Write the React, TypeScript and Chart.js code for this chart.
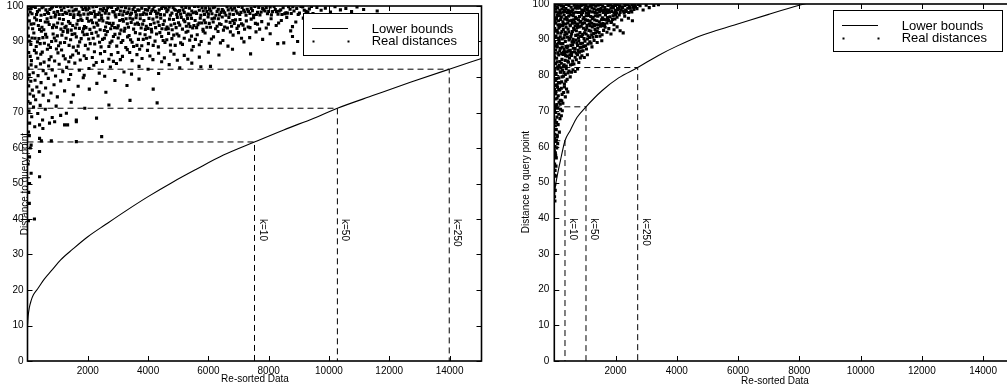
import React, { useEffect, useRef } from 'react';
import { Chart, registerables } from 'chart.js';

Chart.register(...registerables);

const FONT = '"Liberation Sans", Arial, Helvetica, sans-serif';

const xTicks = [2000, 4000, 6000, 8000, 10000, 12000, 14000];
const yTicks = [0, 10, 20, 30, 40, 50, 60, 70, 80, 90, 100];
const xMax = 15060;
const kLabels = ['k=10', 'k=50', 'k=250'];
const kLabelY = 40;
const kDistances = [61.7, 71.2, 82.2];
const leftKX = [7530, 10280, 13990];
const rightKX = [349, 1035, 2723];
const legendLabels = ['Lower bounds', 'Real distances'];
const xTitle = 'Re-sorted Data';
const yTitle = 'Distance to query point';

const leftBoundX = [1, 20, 60, 120, 200, 350, 550, 800, 1100, 1500, 2000, 2600, 3300, 4000, 4800, 5600, 6500, 7530, 8500, 9500, 10280, 11500, 12700, 13990, 15060];
const leftBoundY = [10, 12.5, 15, 17, 18.7, 20.5, 23, 25.5, 28.5, 31.5, 35, 38.5, 42.5, 46.3, 50.3, 54, 58, 61.7, 65.1, 68.4, 71.2, 74.9, 78.5, 82.2, 85.2];

const rightBoundX = [0, 30, 88, 196, 349, 522, 740, 1035, 1556, 2100, 2723, 3400, 4003, 4800, 5961, 7000, 8026, 9000, 11000, 13000, 15060];
const rightBoundY = [45, 48.5, 51.5, 56, 61.7, 64.6, 68.2, 71.2, 75.7, 79.3, 82.2, 85.6, 88.2, 91.2, 94.3, 97.1, 99.7, 101.8, 105.5, 108.8, 112];

const leftReal: [number, number][] = [
  [40,99.2],[150,97.8],[260,99.6],[330,98.4],[450,97.4],[520,99.8],[610,98.9],[700,97.9],[790,99.4],[880,98.2],[960,99.9],[1050,97.6],[1130,98.8],[1210,99.5],[1300,97.9],[1380,98.6],[1470,99.7],[1540,97.5],[1620,99.1],[1710,98.3],[1800,99.8],[1870,97.7],[1950,98.9],[2040,99.4],[2120,97.9],[2210,98.5],[2290,99.9],[2380,98.1],[2450,97.4],[2530,99.3],[2620,98.7],[2700,97.8],[2790,99.6],[2870,98.3],[2950,99.0],[3040,97.6],[3120,99.8],[3200,98.5],[3290,97.9],[3370,99.2],[3450,98.0],[3540,99.7],[3610,97.5],[3700,98.8],[3790,99.4],[3860,98.1],[3950,97.7],[4030,99.6],[4120,98.6],[4200,99.9],[4280,97.8],[4370,98.9],[4450,99.3],[4540,97.5],[4620,98.4],[4700,99.7],[4790,98.0],[4870,99.1],[4950,97.6],[5040,98.7],[5120,99.8],[5200,98.2],[5290,97.4],[5370,99.4],[5450,98.6],[5540,99.9],[5610,97.9],[5700,98.8],[5790,99.5],[5870,97.6],[5950,98.4],[6040,99.2],[6120,97.8],[6210,99.7],[6290,98.5],[6370,97.5],[6460,99.0],[6540,98.1],[6620,99.8],[6710,97.7],[6790,98.9],[6870,99.4],[6960,98.0],[7040,97.6],[7120,99.6],[7210,98.3],[7290,99.1],[7380,97.9],[7460,98.7],[7540,99.9],[7630,98.2],[7710,97.5],[7800,99.3],[7880,98.6],[7960,97.8],[8050,99.7],[8130,98.4],[8220,99.0],[8310,97.7],[8400,98.9],[8480,99.5],[8570,98.1],[8660,99.8],[8750,97.9],[8840,98.6],[8930,99.3],[9020,98.0],[9130,99.7],[9240,98.5],[9350,99.2],[9470,97.9],[9600,99.6],[9740,98.8],[9880,99.4],[10050,98.3],[10200,99.8],[10380,98.9],[10560,99.3],[10750,98.4],[10930,99.7],[11150,99.0],[11600,98.6],
  [90,98.3],[200,99.9],[390,98.9],[570,97.6],[740,99.0],[930,97.5],[1090,99.7],[1250,98.2],[1420,97.6],[1580,98.9],[1750,97.4],[1920,99.5],[2080,98.1],[2250,97.6],[2420,99.1],[2580,98.0],[2750,99.9],[2910,97.5],[3080,98.6],[3250,99.5],[3410,97.6],[3580,98.4],[3740,97.5],[3910,99.0],[4080,97.9],[4240,98.5],[4410,97.6],[4580,99.4],[4740,97.4],[4910,98.8],[5080,97.7],[5250,99.6],[5410,97.5],[5580,98.3],[5750,97.4],[5910,99.4],[6080,98.6],[6250,97.4],[6420,98.2],[6580,97.4],[6750,99.5],[6920,98.6],[7080,98.2],[7250,97.4],[7420,99.3],[7590,97.6],[7750,98.3],[7920,99.6],[8090,97.5],[8260,98.4],[8440,97.6],[8620,98.0],[8800,99.8],[8980,97.6],[9180,98.8],[9420,99.9],
  [15,97.5],[120,99.3],[300,97.6],[480,99.5],[660,98.2],[830,99.7],[1000,98.4],[1170,97.6],[1340,99.9],[1510,98.6],[1680,97.6],[1840,99.0],[2010,97.7],[2170,99.7],[2340,97.6],[2500,98.7],[2660,99.5],[2830,98.4],[3000,99.4],[3160,97.5],[3330,98.2],[3500,99.0],[3660,98.9],[3830,97.6],[3990,98.8],[4160,99.0],[4330,98.0],[4490,99.9],[4660,98.9],[4830,99.6],[5000,98.5],[5160,98.9],[5330,97.7],[5500,98.1],[5660,99.9],[5830,98.6],[6000,97.7],[6160,99.5],[6330,99.1],[6500,98.6],[6660,98.9],[6830,97.6],[7000,99.9],[7170,98.8],[7330,98.5],[7500,97.4],[7670,99.6],[7840,98.9],[8000,98.5],[8180,99.9],[8350,98.6],[8530,97.8],[8710,99.1],[9070,99.9],[9300,98.3],
  [60,95.8],[170,93.6],[240,96.7],[360,94.5],[430,95.9],[540,93.3],[650,96.4],[720,94.8],[830,93.9],[910,96.9],[1000,95.2],[1110,93.5],[1190,96.2],[1280,94.3],[1360,95.6],[1450,93.2],[1530,96.8],[1640,94.9],[1720,93.7],[1810,95.9],[1890,94.2],[1980,96.5],[2070,93.4],[2160,95.3],[2240,96.9],[2330,94.6],[2410,93.3],[2500,95.8],[2590,94.1],[2670,96.6],[2760,93.6],[2840,95.1],[2930,96.9],[3010,94.4],[3100,93.2],[3180,95.7],[3270,96.4],[3350,94.0],[3440,95.4],[3520,93.5],[3600,96.7],[3690,94.8],[3770,93.8],[3860,95.9],[3940,94.3],[4030,96.5],[4110,93.4],[4200,95.2],[4290,96.9],[4370,94.5],[4460,93.6],[4540,95.8],[4630,94.1],[4710,96.3],[4800,93.3],[4880,95.0],[4970,96.8],[5050,94.6],[5140,93.5],[5220,95.6],[5310,96.5],[5390,94.2],[5480,93.8],[5560,95.9],[5650,94.7],[5730,96.6],[5820,93.4],[5900,95.3],[5990,96.9],[6070,94.0],[6160,95.5],[6240,93.6],[6330,96.4],[6420,94.8],[6500,93.2],[6590,95.7],[6680,96.8],[6770,94.3],[6860,95.1],[6950,93.7],[7050,96.2],[7150,94.6],[7260,95.8],[7380,93.9],[7500,96.7],[7630,94.9],[7770,95.6],[7920,93.8],[8080,96.4],[8250,94.5],[8420,95.9],[8600,96.8],[8790,94.2],[8900,95.5],[9150,96.6],[9500,96.1],
  [120,94.9],[300,96.1],[480,94.0],[680,95.5],[870,94.6],[1060,96.4],[1240,93.9],[1410,95.1],[1590,93.8],[1770,96.3],[1940,93.9],[2120,96.0],[2290,95.2],[2460,96.5],[2630,95.3],[2800,94.5],[2980,93.8],[3150,96.2],[3310,95.0],[3490,96.3],[3650,95.2],[3820,94.9],[4000,93.7],[4160,96.3],[4330,95.5],[4500,94.8],[4670,93.6],[4840,96.2],[5010,95.3],[5180,96.1],[5350,95.0],[5520,94.5],[5690,95.2],[5860,96.0],[6030,95.1],[6200,96.6],[6370,95.0],[6540,94.1],[6720,95.4],[6900,96.1],[7100,95.0],[7320,94.1],[7560,95.1],
  [20,93.8],[210,95.0],[400,93.4],[590,95.5],[780,96.8],[960,94.0],[1150,95.0],[1330,93.3],[1500,94.5],[1680,95.9],[1860,93.6],[2030,95.7],[2210,94.0],[2380,96.0],[2550,93.1],[2720,95.1],[2890,93.9],[3060,95.9],[3230,93.7],[3400,96.6],[3570,94.9],[3740,96.4],[3910,93.4],[4080,94.8],[4250,93.9],[4420,96.6],[4590,93.5],[4760,94.6],[4930,93.9],[5100,96.8],[5270,94.3],[5440,96.5],[5610,93.9],[5780,95.2],[5950,94.0],[6120,96.4],[6290,94.3],[6460,96.9],[6630,93.8],[6810,95.9],[7000,94.4],[7200,93.5],[7420,96.3],[7700,93.5],[7990,94.9],[8330,95.2],
  [30,91.5],[110,89.2],[210,92.4],[290,88.6],[380,90.8],[460,92.9],[560,89.5],[640,91.2],[760,88.3],[850,92.1],[940,90.2],[1030,88.8],[1140,91.8],[1230,89.7],[1330,92.6],[1430,90.5],[1520,88.4],[1620,91.3],[1730,89.9],[1830,92.7],[1920,88.9],[2030,90.7],[2130,92.3],[2230,89.3],[2340,91.6],[2440,88.5],[2550,90.9],[2650,92.8],[2740,89.6],[2850,91.4],[2960,88.7],[3060,92.2],[3160,90.3],[3260,88.3],[3370,91.7],[3470,89.8],[3580,92.5],[3680,90.6],[3790,88.8],[3900,91.9],[4010,89.4],[4120,92.7],[4230,90.1],[4340,88.5],[4450,91.4],[4560,89.7],[4680,92.3],[4790,90.8],[4900,88.9],[5020,91.6],[5140,89.2],[5260,92.6],[5380,90.4],[5500,88.6],[5630,91.9],[5760,90.0],[5890,92.4],[6030,89.5],[6170,91.3],[6320,92.8],[6480,90.3],[6650,88.7],[6820,91.8],[7000,92.5],[7180,89.9],[7370,91.1],[7580,92.7],[7800,90.6],[8050,92.2],[8300,89.4],[8500,89.6],[8730,93.0],[8790,91.4],[8960,90.0],
  [70,90.1],[250,90.9],[420,89.4],[600,92.0],[800,90.0],[990,91.6],[1180,92.8],[1380,88.9],[1570,92.2],[1780,90.8],[1980,92.0],[2180,90.9],[2390,89.8],[2600,91.9],[2800,90.1],[3010,91.0],[3210,92.9],[3420,90.5],[3630,88.9],[3840,90.6],[4060,91.2],[4280,92.1],[4500,90.3],[4740,89.0],[4960,92.1],[5200,90.9],[5440,91.5],[5700,89.1],
  [150,91.0],[330,89.9],[510,91.1],[700,89.0],[890,91.0],[1090,89.6],[1280,90.9],[1480,92.0],[1680,88.7],[1880,91.9],[2080,89.4],[2280,92.6],[2490,90.6],[2700,88.6],[2900,92.0],[3110,89.7],[3320,91.3],[3520,88.6],[3730,92.2],[3950,90.9],[4170,88.9],[4390,92.5],[4620,90.5],[4850,91.8],[5080,89.6],[5320,92.9],[5570,90.6],[5830,92.9],[6100,90.7],[6400,89.6],[6730,92.7],[7100,90.9],
  [40,86.9],[130,84.6],[230,87.5],[340,85.3],[440,86.4],[550,84.2],[660,87.8],[780,85.7],[900,84.5],[1010,86.8],[1130,87.6],[1250,85.1],[1370,84.3],[1500,86.2],[1620,87.4],[1750,84.8],[1880,86.0],[2010,87.9],[2150,85.5],[2280,84.1],[2420,86.6],[2560,87.2],[2700,85.0],[2850,84.4],[3000,86.9],[3150,85.8],[3310,87.7],[3470,84.6],[3630,86.3],[3800,85.2],[3980,87.5],[4160,84.9],[4350,86.7],[4540,85.4],[4750,87.3],[4970,84.7],[5200,86.1],[5450,87.6],[5700,85.6],[6000,87.0],[6350,86.2],[6800,87.8],[7400,86.5],[8840,86.7],
  [90,85.8],[290,86.8],[490,87.0],[720,84.9],[960,87.9],[1190,86.0],[1430,85.6],[1690,86.7],[1950,85.2],[2220,87.1],[2490,84.4],[2780,86.3],[3080,84.9],[3390,86.9],[3720,87.8],[4060,85.9],[4450,84.3],[4860,86.4],[5320,85.0],
  [20,82.5],[60,80.6],[120,83.4],[190,81.2],[280,82.9],[350,80.4],[430,83.7],[520,81.8],[610,80.9],[700,83.1],[820,82.0],[930,80.3],[1050,83.6],[1170,81.5],[1300,82.7],[1430,80.7],[1570,83.9],[1720,81.9],[1880,80.5],[2040,82.4],[2200,83.3],[2380,81.1],[2560,80.2],[2750,82.8],[2950,83.8],[3200,81.4],[3450,80.8],[3700,83.0],[4000,82.2],[4350,81.0],[4700,83.5],[5050,82.6],[5450,83.9],[5750,82.9],[6070,83.0],
  [10,79.4],[40,77.5],[80,75.2],[110,78.8],[160,76.3],[200,74.6],[250,79.1],[310,77.2],[380,75.8],[450,78.4],[520,74.9],[600,76.9],[690,79.6],[780,75.5],[880,77.8],[990,74.4],[1100,78.9],[1230,76.1],[1370,79.3],[1520,75.0],[1680,77.4],[1850,79.8],[2050,76.6],[2300,78.2],[2600,75.7],[2900,79.0],[3300,77.6],[3700,79.4],[4170,76.6],
  [15,73.1],[50,70.4],[90,72.6],[140,68.8],[200,71.5],[270,73.6],[340,69.7],[420,72.0],[500,67.9],[590,70.9],[700,73.3],[820,68.6],[950,71.8],[1100,69.2],[1290,69.8],[1450,72.9],[1620,67.9],[1900,71.2],[2290,68.4],[2700,72.1],[3400,73.4],[4300,72.7],
  [70,67.0],[240,66.0],[400,66.5],[510,65.5],[730,67.0],[900,67.4],[1230,66.5],[1330,66.5],[1620,67.4],[2460,63.2],[400,62.7],[460,62.0],[790,62.0],[1620,61.8],[30,64.5],[120,60.8],[60,63.5],
  [67,57.5],[400,59.0],[120,52.9],[400,51.9],[67,50.0],[60,44.4],[230,40.0],[20,55.5],[40,47.5],[90,60.0],[30,39.5]
];

const rightReal: [number, number][] = [
  [20,99.5],[60,97.8],[110,98.9],[150,99.8],[200,97.4],[250,98.6],[300,99.3],[350,97.9],[400,99.9],[450,98.2],[500,97.5],[550,99.1],[600,98.4],[650,99.7],[700,97.7],[750,98.8],[800,99.4],[850,97.6],[900,98.3],[950,99.9],[1000,98.9],[1050,97.5],[1100,99.2],[1150,98.0],[1200,99.7],[1250,97.8],[1300,98.6],[1350,99.4],[1400,97.4],[1450,98.5],[1500,99.8],[1550,98.1],[1600,97.6],[1650,99.0],[1700,98.4],[1750,99.6],[1800,97.7],[1850,98.8],[1900,99.3],[1950,97.5],[2000,98.2],[2050,99.8],[2100,98.7],[2150,97.6],[2200,99.2],[2250,98.0],[2300,99.6],[2350,97.9],[2400,98.8],[2450,99.4],[2500,98.1],[2550,99.9],[2600,98.5],[2650,99.2],[2700,98.7],[2800,99.5],[2900,98.3],[3000,99.7],[3100,99.0],[3250,99.6],[3400,99.8],
  [40,98.6],[130,97.5],[230,99.5],[330,98.4],[430,97.6],[530,98.0],[630,97.4],[730,99.5],[830,98.9],[930,97.6],[1030,99.6],[1130,97.6],[1230,98.9],[1330,97.6],[1430,99.7],[1530,98.7],[1630,98.2],[1730,97.6],[1830,99.7],[1930,98.9],[2030,97.5],[2130,99.5],[2230,99.0],[2330,98.3],[2430,97.6],[2530,97.8],[2630,99.6],
  [80,99.2],[180,98.2],[280,97.7],[380,98.7],[480,99.6],[580,97.8],[680,98.9],[780,97.6],[880,99.6],[980,98.2],[1080,98.5],[1180,99.4],[1280,99.8],[1380,98.3],[1480,97.9],[1580,99.4],[1680,97.5],[1780,98.3],[1880,97.9],[1980,99.6],[2080,98.5],[2180,98.4],[2280,97.5],[2380,99.9],[2480,98.9],[2580,99.1],[2750,99.9],
  [10,96.1],[50,94.6],[90,96.8],[140,95.3],[180,94.2],[230,96.4],[280,95.0],[320,96.9],[370,94.4],[420,95.7],[470,96.6],[520,94.1],[570,95.4],[620,96.7],[670,94.8],[720,95.9],[770,94.3],[820,96.5],[870,95.1],[920,94.5],[970,96.2],[1020,95.6],[1070,94.0],[1120,96.8],[1170,95.2],[1220,94.6],[1270,96.3],[1320,95.5],[1370,94.2],[1420,96.6],[1470,95.0],[1520,94.4],[1570,96.1],[1620,95.7],[1670,96.9],[1720,94.7],[1770,95.4],[1820,96.4],[1870,95.0],[1920,96.7],[1980,95.8],[2050,96.3],[2120,96.9],[2200,95.5],[2300,96.6],[2420,96.0],[2550,95.3],
  [30,95.2],[120,94.1],[210,95.7],[300,94.4],[390,96.2],[490,95.3],[590,94.6],[690,96.3],[790,95.6],[890,96.9],[990,94.7],[1090,95.4],[1190,96.5],[1290,94.3],[1390,95.3],[1490,96.9],[1590,94.5],[1690,95.6],[1850,94.8],[1950,94.2],
  [70,95.9],[160,96.7],[250,94.0],[340,95.8],[440,94.7],[540,96.9],[640,95.6],[740,94.4],[840,94.9],[940,95.8],[1040,96.7],[1140,94.4],[1240,95.9],[1340,96.7],[1440,94.1],[1540,95.6],[1640,94.3],[1740,96.2],[1900,95.7],[2000,96.9],
  [15,93.1],[55,91.0],[95,92.6],[135,90.4],[175,93.7],[215,91.8],[255,90.2],[295,92.9],[340,91.3],[385,93.5],[430,90.7],[475,92.2],[520,93.9],[565,91.6],[610,90.1],[655,92.8],[700,91.2],[745,93.4],[790,90.5],[835,92.0],[880,93.8],[925,91.5],[970,90.3],[1015,92.7],[1060,93.3],[1105,91.1],[1150,90.6],[1195,92.4],[1240,93.6],[1285,91.7],[1330,92.9],[1375,90.9],[1420,93.2],[1465,92.0],[1510,93.8],[1560,91.4],[1610,92.6],[1660,93.5],[1720,92.1],[1780,93.1],[1850,91.6],[1950,92.8],[2150,92.5],[2250,91.9],[2050,93.6],
  [35,90.6],[115,91.9],[195,90.8],[275,93.9],[360,92.1],[450,93.0],[540,90.9],[630,93.2],[720,92.5],[810,93.6],[900,90.9],[990,91.9],[1080,90.2],[1170,93.9],[1260,90.7],[1350,91.9],
  [50,92.4],[150,93.3],[250,92.3],[320,90.5],[410,91.6],[500,90.3],[590,92.3],[680,93.9],[770,91.4],[860,91.0],[950,93.2],[1040,91.6],[1130,92.6],[1220,91.4],[1310,93.9],[1400,92.3],[1490,91.0],[1600,93.9],
  [10,89.4],[45,87.1],[80,88.7],[120,86.3],[160,89.8],[200,87.6],[240,86.1],[280,88.9],[320,87.3],[360,89.5],[400,86.6],[440,88.2],[480,89.9],[520,87.0],[560,86.4],[600,88.6],[640,89.3],[680,87.5],[720,86.2],[760,88.4],[800,89.7],[840,87.8],[880,86.8],[920,89.0],[960,88.1],[1000,89.6],[1050,87.4],[1100,88.8],[1160,89.4],[1230,88.0],[1300,89.8],[1400,89.2],[1550,89.7],
  [25,86.2],[100,88.0],[180,86.9],[260,87.9],[340,86.0],[420,87.7],[500,86.9],[580,89.4],[660,86.6],[740,89.1],[820,86.5],[900,87.9],
  [60,88.2],[140,89.0],[220,88.9],[300,86.4],[380,88.1],[460,86.8],[540,88.4],[620,87.6],[700,89.9],[780,87.0],[860,88.9],[940,86.9],[1020,88.3],[1200,89.0],
  [10,85.2],[40,83.3],[75,84.8],[110,82.4],[145,85.7],[180,83.9],[215,82.1],[250,84.5],[285,85.9],[320,83.0],[355,84.2],[390,82.6],[425,85.4],[460,83.7],[495,84.9],[530,82.9],[565,85.6],[600,84.0],[640,83.2],[680,85.1],[720,84.4],[760,85.8],[800,83.6],[850,84.9],[900,85.5],[980,85.0],[1080,85.8],
  [25,82.0],[90,83.8],[160,82.8],[230,83.4],[300,82.5],[370,85.5],[440,84.0],[510,85.8],[580,83.1],
  [10,81.3],[35,78.6],[60,80.5],[90,77.4],[120,81.8],[150,79.3],[180,77.9],[210,80.9],[240,78.2],[270,81.5],[300,79.8],[330,77.6],[360,80.3],[390,81.9],[420,78.9],[450,80.7],[480,81.2],[520,79.6],[560,80.9],[610,81.6],[680,81.1],[760,81.8],
  [20,77.2],[75,79.1],[135,78.0],[195,81.0],[255,79.6],[315,80.8],[375,78.4],
  [8,76.1],[30,73.4],[55,75.5],[80,71.8],[105,76.7],[130,74.3],[155,72.5],[180,75.9],[205,73.0],[230,76.4],[255,74.7],[280,72.2],[305,75.2],[330,76.8],[360,74.0],[400,76.2],[440,75.4],
  [18,71.5],[45,74.8],[92,73.6],[143,76.0],[193,71.9],[243,72.9],
  [5,70.2],[25,67.5],[45,69.6],[65,64.8],[85,68.3],[105,70.8],[125,66.2],[145,69.1],[165,64.1],[185,67.9],[205,70.5],[230,68.7],[260,70.1],[15,63.5],[35,65.9],[55,71.0],[75,66.8],[95,63.2],
  [5,62.4],[20,60.1],[35,58.3],[50,61.5],[65,56.9],[80,59.7],[95,62.8],[110,60.9],[10,55.2],[25,53.4],[40,51.8],[55,54.6],[15,49.5],[30,47.8],[8,46.0],[45,57.6],[70,61.9],[12,52.0],[3,58.9],[20,44.8]
];

type Box = { x: number; y: number; w: number; h: number };
type PanelProps = {
  left: number;
  width: number;
  containerWidth: number;
  areaLeft: number;
  areaRight: number;
  areaTop: number;
  boundX: number[];
  boundY: number[];
  real: [number, number][];
  kX: number[];
  yTitlePos: [number, number];
  xTitlePos: [number, number];
  legend: Box;
  yTickPad: number;
};

function Panel(p: PanelProps) {
  const ref = useRef<HTMLCanvasElement | null>(null);
  useEffect(() => {
    const canvas = ref.current;
    if (!canvas) return;
    const guide = (i: number) => [
      { x: 0, y: kDistances[i] },
      { x: p.kX[i], y: kDistances[i] },
      { x: p.kX[i], y: 0 },
    ];
    const frame = {
      id: 'frame',
      afterDatasetsDraw(chart: any) {
        const { ctx, chartArea: a } = chart;
        const xs = chart.scales.x;
        const ys = chart.scales.y;
        ctx.save();
        ctx.strokeStyle = '#000';
        ctx.lineWidth = 1;
        ctx.beginPath();
        for (const v of xTicks) {
          const px = Math.round(xs.getPixelForValue(v)) + 0.5;
          ctx.moveTo(px, a.bottom);
          ctx.lineTo(px, a.bottom - 5);
          ctx.moveTo(px, a.top);
          ctx.lineTo(px, a.top + 5);
        }
        for (const v of yTicks) {
          const py = Math.round(ys.getPixelForValue(v)) + 0.5;
          ctx.moveTo(a.left, py);
          ctx.lineTo(a.left + 5, py);
          ctx.moveTo(a.right, py);
          ctx.lineTo(a.right - 5, py);
        }
        ctx.stroke();
        ctx.lineWidth = 1.6;
        ctx.strokeRect(a.left, a.top, a.right - a.left, a.bottom - a.top);

        ctx.fillStyle = '#000';
        ctx.font = '10px ' + FONT;
        ctx.textAlign = 'left';
        ctx.textBaseline = 'alphabetic';
        kLabels.forEach((lab, i) => {
          ctx.save();
          ctx.translate(xs.getPixelForValue(p.kX[i]) + 5, ys.getPixelForValue(kLabelY));
          ctx.rotate(Math.PI / 2);
          ctx.fillText(lab, 0, 0);
          ctx.restore();
        });

        ctx.textAlign = 'center';
        ctx.textBaseline = 'middle';
        ctx.fillText(xTitle, p.xTitlePos[0], p.xTitlePos[1]);
        ctx.save();
        ctx.translate(p.yTitlePos[0], p.yTitlePos[1]);
        ctx.rotate(-Math.PI / 2);
        ctx.fillText(yTitle, 0, 0);
        ctx.restore();

        const L = p.legend;
        ctx.fillStyle = '#fff';
        ctx.fillRect(L.x, L.y, L.w, L.h);
        ctx.strokeStyle = '#000';
        ctx.lineWidth = 1;
        ctx.strokeRect(L.x + 0.5, L.y + 0.5, L.w, L.h);
        ctx.beginPath();
        ctx.moveTo(L.x + 9, L.y + 15.5);
        ctx.lineTo(L.x + 45, L.y + 15.5);
        ctx.stroke();
        ctx.fillStyle = '#000';
        ctx.fillRect(L.x + 9.5, L.y + 27.5, 2, 2);
        ctx.fillRect(L.x + 44.5, L.y + 27.5, 2, 2);
        ctx.font = '13px ' + FONT;
        ctx.textAlign = 'left';
        ctx.textBaseline = 'alphabetic';
        ctx.fillText(legendLabels[0], L.x + 68.7, L.y + 19.8);
        ctx.fillText(legendLabels[1], L.x + 68.7, L.y + 32.3);
        ctx.restore();
      },
    };

    const tickFont = { size: 10, family: FONT };
    const chart = new Chart(canvas, {
      type: 'scatter',
      data: {
        datasets: [
          {
            label: legendLabels[0],
            data: p.boundX.map((x, i) => ({ x, y: p.boundY[i] })),
            showLine: true,
            borderColor: '#000',
            borderWidth: 1.1,
            pointRadius: 0,
            cubicInterpolationMode: 'monotone',
          } as any,
          {
            label: legendLabels[1],
            data: p.real.map(([x, y]) => ({ x, y })),
            showLine: false,
            pointStyle: 'rect',
            pointRadius: 2.2,
            backgroundColor: '#000',
            borderWidth: 0,
          },
          ...kLabels.map((lab, i) => ({
            label: lab,
            data: guide(i),
            showLine: true,
            borderColor: '#000',
            borderWidth: 1,
            borderDash: [6, 4],
            pointRadius: 0,
          })),
        ],
      },
      options: {
        responsive: false,
        animation: false,
        devicePixelRatio: 1,
        events: [],
        layout: { padding: { top: p.areaTop, right: p.width - p.areaRight, left: 0, bottom: 0 } },
        plugins: { legend: { display: false }, tooltip: { enabled: false } },
        scales: {
          x: {
            type: 'linear',
            min: 0,
            max: xMax,
            grid: { display: false, drawTicks: false },
            border: { display: false },
            ticks: { color: '#000', font: tickFont, padding: 4, maxRotation: 0, callback: (v: any) => String(v) },
            afterBuildTicks: (s: any) => {
              s.ticks = xTicks.map((v) => ({ value: v }));
            },
            afterFit: (s: any) => {
              s.height = 31;
              s.paddingLeft = 0;
              s.paddingRight = 0;
            },
          },
          y: {
            type: 'linear',
            min: 0,
            max: 100,
            grid: { display: false, drawTicks: false },
            border: { display: false },
            ticks: { color: '#000', font: tickFont, padding: p.yTickPad, callback: (v: any) => String(v) },
            afterBuildTicks: (s: any) => {
              s.ticks = yTicks.map((v) => ({ value: v }));
            },
            afterFit: (s: any) => {
              s.width = p.areaLeft;
              s.paddingTop = 0;
              s.paddingBottom = 0;
            },
          },
        },
      } as any,
      plugins: [frame],
    });
    return () => chart.destroy();
  }, []);
  return (
    <div style={{ position: 'absolute', left: p.left, top: 0, width: p.containerWidth, height: 392, overflow: 'hidden' }}>
      <canvas ref={ref} width={p.width} height={392} style={{ display: 'block', width: p.width, height: 392 }} />
    </div>
  );
}

export default function App() {
  return (
    <div style={{ position: 'absolute', left: 0, top: 0, width: 1007, height: 392, overflow: 'hidden', background: '#fff' }}>
      <Panel
        left={0}
        width={500}
        containerWidth={500}
        areaLeft={27.5}
        areaRight={481.5}
        areaTop={6}
        boundX={leftBoundX}
        boundY={leftBoundY}
        real={leftReal}
        kX={leftKX}
        yTitlePos={[25, 184]}
        xTitlePos={[255, 379.5]}
        legend={{ x: 303, y: 13, w: 175, h: 42 }}
        yTickPad={4}
      />
      <Panel
        left={500}
        width={530}
        containerWidth={507}
        areaLeft={54.3}
        areaRight={515.5}
        areaTop={2}
        boundX={rightBoundX}
        boundY={rightBoundY}
        real={rightReal}
        kX={rightKX}
        yTitlePos={[26, 182]}
        xTitlePos={[275, 381.5]}
        legend={{ x: 333, y: 10, w: 169, h: 41 }}
        yTickPad={5}
      />
    </div>
  );
}
